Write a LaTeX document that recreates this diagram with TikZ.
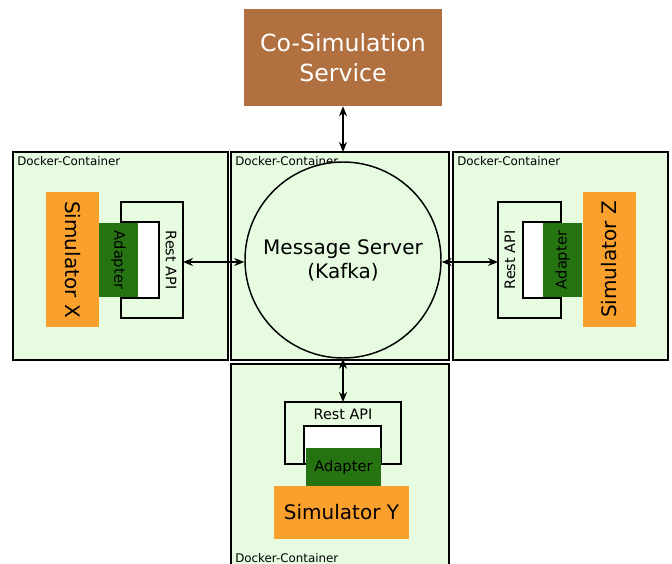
\documentclass[tikz,border=0pt]{standalone}
\usepackage{fontspec}
\setmainfont{DejaVu Sans}
\usetikzlibrary{arrows.meta}
\definecolor{cfill}{RGB}{230,251,224}
\definecolor{brownc}{RGB}{176,112,63}
\definecolor{orangec}{RGB}{250,160,45}
\definecolor{greenc}{RGB}{38,115,18}
\tikzset{
  container/.style={draw=black, line width=1.4pt, fill=cfill},
  clabel/.style={anchor=north west, inner sep=0pt, font=\fontsize{8.9pt}{10pt}\selectfont},
  sim/.style={fill=orangec, inner sep=0pt, font=\fontsize{15pt}{18pt}\selectfont},
  adapter/.style={fill=greenc, inner sep=0pt, font=\fontsize{11pt}{13pt}\selectfont},
  api/.style={draw=black, line width=1.1pt},
  apitext/.style={inner sep=0pt, font=\fontsize{10.8pt}{13pt}\selectfont},
  link/.style={line width=1.2pt, {Stealth[length=7.5pt,width=6pt]}-{Stealth[length=7.5pt,width=6pt]}},
}
\begin{document}
\begin{tikzpicture}[x=0.75pt, y=-0.75pt]
\useasboundingbox (0,0) rectangle (672,564);
\clip (0,0) rectangle (672,564);
% containers
\draw[container] (13,152) rectangle (228,360);
\draw[container] (231,152) rectangle (449,360);
\draw[container] (453,152) rectangle (668,360);
\draw[container] (231,364) rectangle (449,580);
\coordinate (mtop) at (343,152);
\node[clabel] (lx) at (17,156) {Docker-Container};
\node[clabel] (lm) at (235,156) {Docker-Container};
\node[clabel] (lz) at (457,156) {Docker-Container};
\node[clabel] (ly) at (235,553) {Docker-Container};
% co-simulation service
\node[fill=brownc, text=white, minimum width=148.5pt, minimum height=72.75pt, inner sep=0pt, align=center,
      font=\fontsize{17.7pt}{22.5pt}\selectfont] (cosim) at (343,57.5) {Co-Simulation\\Service};
% message server
\node[circle, draw=black, line width=1.1pt, fill=cfill, minimum size=147pt, inner sep=0pt, align=center,
      font=\fontsize{15pt}{18pt}\selectfont] (kafka) at (343,260) {Message Server\\(Kafka)};
% Simulator X side
\draw[api] (121,222) -- (121,202) -- (183,202) -- (183,318) -- (121,318) -- (121,298);
\draw[api, fill=white] (121,222) rectangle (159,298);
\node[apitext, rotate=-90] (apix) at (171,260) {Rest API};
\coordinate (apixe) at (183,262);
\node[adapter, rotate=-90, minimum width=55.5pt, minimum height=29.25pt] (adx) at (118.5,260) {Adapter};
\node[sim, rotate=-90, minimum width=101.25pt, minimum height=39.75pt] (simx) at (72.5,259.5) {Simulator X};
% Simulator Z side
\draw[api] (561,222) -- (561,202) -- (498,202) -- (498,318) -- (561,318) -- (561,298);
\draw[api, fill=white] (523,222) rectangle (561,298);
\node[apitext, rotate=90] (apiz) at (510,260) {Rest API};
\coordinate (apize) at (498,262);
\node[adapter, rotate=90, minimum width=55.5pt, minimum height=29.25pt] (adz) at (562.5,260) {Adapter};
\node[sim, rotate=90, minimum width=101.25pt, minimum height=39.75pt] (simz) at (609,259.5) {Simulator Z};
% Simulator Y side
\draw[api] (304,464) -- (285,464) -- (285,402) -- (401,402) -- (401,464) -- (381,464);
\draw[api, fill=white] (304,426) rectangle (381,464);
\node[apitext] (apiy) at (343,414) {Rest API};
\coordinate (apiye) at (343,402);
\node[adapter, minimum width=56.25pt, minimum height=28.5pt] (ady) at (343.5,467) {Adapter};
\node[sim, minimum width=101.25pt, minimum height=39.75pt] (simy) at (341.5,512.5) {Simulator Y};
% connectors
\draw[link] (cosim.south) -- (mtop);
\draw[link] (apixe) -- (kafka.west |- apixe);
\draw[link] (kafka.east |- apize) -- (apize);
\draw[link] (kafka.south) -- (apiye);
\end{tikzpicture}
\end{document}
